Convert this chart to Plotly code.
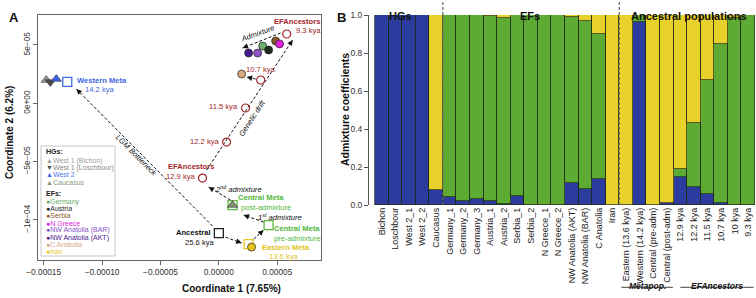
import math
import plotly.graph_objects as go

FONT = "Liberation Sans, Arial, sans-serif"
W, H = 756, 298

# ---------------- Panel A data (MDS coordinates) ----------------
hg_names = ["West 1 (Bichon)", "West 1 (Loschbour)", "West 2", "Caucasus"]
hg_x = [-1.478e-4, -1.443e-4, -1.392e-4, 1.17e-5]
hg_y = [2.00e-5, 1.83e-5, 2.08e-5, -8.72e-5]
hg_symbols = ["triangle-up", "triangle-down", "triangle-up", "triangle-up"]
hg_colors = ["#9b9b9b", "#4a4a4a", "#3f63e6", "#7d8f6e"]
hg_text_colors = ["#a0a0a0", "#8a8a8a", "#4f73f0", "#8a9a7c"]

meta_names = ["Western Meta", "Ancestral", "Eastern Meta", "Central Meta (pre)", "Central Meta (post)"]
meta_x = [-1.298e-4, 0.0, 2.55e-5, 4.26e-5, 1.17e-5]
meta_y = [1.83e-5, -1.112e-4, -1.207e-4, -1.044e-4, -8.72e-5]
meta_colors = ["#4169e1", "#222222", "#e6c619", "#5cb83f", "#5cb83f"]

ef_names = ["Germany", "Austria", "Serbia", "N Greece", "NW Anatolia (BAR)",
            "NW Anatolia (AKT)", "C Anatolia", "Iran"]
ef_x = [3.75e-5, 4.26e-5, 4.86e-5, 5.20e-5, 3.32e-5, 2.55e-5, 1.95e-5, 2.80e-5]
ef_y = [4.91e-5, 4.57e-5, 5.34e-5, 5.09e-5, 4.31e-5, 4.31e-5, 2.51e-5, -1.232e-4]
ef_colors = ["#6cae6c", "#1b2a1b", "#8b5a2b", "#e01ee0", "#8b52c9", "#4a1a8f", "#d6a97f", "#e8c51d"]

anc_ages = ["12.9 kya", "12.2 kya", "11.5 kya", "10.7 kya", "9.3 kya"]
anc_x = [-1.40e-5, 6.6e-6, 2.29e-5, 3.58e-5, 5.81e-5]
anc_y = [-6.41e-5, -3.32e-5, -4.0e-6, 2.00e-5, 5.94e-5]
ANC_RED = "#a3262a"

# arrows (from -> to), data coordinates
arrow_names = ["LGM Bottleneck", "to Eastern", "to Central pre", "1st admixture",
               "2nd admixture", "Genetic drift", "Admixture", "to C Anatolia"]
arrow_x0 = [-5.4e-6, 5.7e-6, 2.98e-5, 3.83e-5, 1.00e-5, -1.05e-5, 5.29e-5, 3.15e-5]
arrow_y0 = [-1.052e-4, -1.147e-4, -1.164e-4, -1.018e-4, -8.29e-5, -5.72e-5, 6.03e-5, 2.08e-5]
arrow_x1 = [-1.22e-4, 1.95e-5, 3.83e-5, 2.12e-5, -8.8e-6, 6.32e-5, 2.03e-5, 2.38e-5]
arrow_y1 = [1.23e-5, -1.198e-4, -1.087e-4, -9.58e-5, -7.18e-5, 5.43e-5, 4.74e-5, 2.26e-5]

# axis setup panel A
A_XRANGE = [-1.546e-4, 8.72e-5]
A_YRANGE = [-1.343e-4, 7.57e-5]
A_XDOM = [38.3 / W, 320.7 / W]
A_YDOM = [(H - 260) / H, (H - 15) / H]
a_xticks = [-1.5e-4, -1e-4, -5e-5, 0, 5e-5]
a_xticktext = ["\u22120.00015", "\u22120.00010", "\u22120.00005", "0.00000", "0.00005"]
a_yticks = [-1e-4, -5e-5, 0, 5e-5]
a_yticktext = ["\u22121e\u221204", "\u22125e\u221205", "0e+00", "5e\u221205"]

# ---------------- Panel B data (admixture) ----------------
labels = ["Bichon", "Loschbour", "West 2_1", "West 2_2", "Caucasus",
          "Germany_1", "Germany_2", "Germany_3", "Austria_1", "Austria_2",
          "Serbia_1", "Serbia_2", "N Greece_1", "N Greece_2",
          "NW Anatolia (AKT)", "NW Anatolia (BAR)", "C Anatolia", "Iran",
          "Eastern (13.6 kya)", "Western (14.2 kya)", "Central (pre-adm)", "Central (post-adm)",
          "12.9 kya", "12.2 kya", "11.5 kya", "10.7 kya", "10 kya", "9.3 kya"]
blue = [1, 1, 1, 1, 0.08, 0.04, 0.023, 0.03, 0.02, 0.005, 0.047, 0, 0, 0,
        0.114, 0.083, 0.135, 0, 0, 0.965, 0, 0.012, 0.146, 0.096, 0.056, 0.012, 0, 0]
green = [0, 0, 0, 0, 0, 0.96, 0.977, 0.97, 0.975, 0.98, 0.953, 1, 1, 1,
         0.876, 0.887, 0.765, 0, 0, 0.035, 0, 0, 0.044, 0.337, 0.604, 0.838, 0.983, 1]
yellow = [0, 0, 0, 0, 0.92, 0, 0, 0, 0.005, 0.015, 0, 0, 0, 0,
          0.01, 0.03, 0.10, 1, 1, 0, 1, 0.988, 0.81, 0.567, 0.34, 0.15, 0.017, 0]
B_BLUE, B_GREEN, B_YELLOW = "#2b3c9e", "#5eab33", "#e9d12c"

B_XDOM = [369 / W, 755 / W]
B_YDOM = [(H - 205) / H, (H - 15) / H]
B_XRANGE = [-0.94, 27.5]

fig = go.Figure()

# dashed arrow lines
lx, ly = [], []
for a, b, c, d in zip(arrow_x0, arrow_y0, arrow_x1, arrow_y1):
    lx += [a, c, None]
    ly += [b, d, None]
fig.add_trace(go.Scatter(x=lx, y=ly, mode="lines", xaxis="x", yaxis="y",
                         line=dict(color="#111111", width=1, dash="3px,2px"),
                         hoverinfo="skip", showlegend=False))

# metapopulation squares
fig.add_trace(go.Scatter(x=meta_x, y=meta_y, mode="markers", xaxis="x", yaxis="y",
                         marker=dict(symbol="square-open", size=9, color=meta_colors,
                                     line=dict(width=1.3, color=meta_colors)),
                         text=meta_names, showlegend=False))
# HG triangles
fig.add_trace(go.Scatter(x=hg_x, y=hg_y, mode="markers", xaxis="x", yaxis="y",
                         marker=dict(symbol=hg_symbols, size=9, color=hg_colors,
                                     line=dict(width=0.6, color="#333333")),
                         text=hg_names, showlegend=False))
# EF circles
fig.add_trace(go.Scatter(x=ef_x, y=ef_y, mode="markers", xaxis="x", yaxis="y",
                         marker=dict(symbol="circle", size=8, color=ef_colors,
                                     line=dict(width=0.7, color="#222222")),
                         text=ef_names, showlegend=False))
# EF ancestors
fig.add_trace(go.Scatter(x=anc_x, y=anc_y, mode="markers", xaxis="x", yaxis="y",
                         marker=dict(symbol="circle-open", size=8, color=ANC_RED,
                                     line=dict(width=1.2, color=ANC_RED)),
                         text=anc_ages, showlegend=False))

# admixture bars
for vals, col, nm in [(blue, B_BLUE, "blue"), (green, B_GREEN, "green"), (yellow, B_YELLOW, "yellow")]:
    fig.add_trace(go.Bar(x=labels, y=vals, xaxis="x2", yaxis="y2", name=nm,
                         marker=dict(color=col, line=dict(color="#1f2a14", width=0.7)),
                         width=1.0, showlegend=False))

ann = []
shapes = []

# arrowheads
px_per_x = (A_XDOM[1] - A_XDOM[0]) * W / (A_XRANGE[1] - A_XRANGE[0])
px_per_y = (A_YDOM[1] - A_YDOM[0]) * H / (A_YRANGE[1] - A_YRANGE[0])
for a, b, c, d in zip(arrow_x0, arrow_y0, arrow_x1, arrow_y1):
    dxp = (c - a) * px_per_x
    dyp = (d - b) * px_per_y
    L = math.hypot(dxp, dyp)
    ax = -dxp / L * 6
    ay = dyp / L * 6
    ann.append(dict(x=c, y=d, xref="x", yref="y", ax=ax, ay=ay, text="",
                    showarrow=True, arrowhead=2, arrowsize=1.1, arrowwidth=1,
                    arrowcolor="#111111", standoff=0))


def lab(x, y, text, color, size=7.6, xs=0, ys=0, anchor="center", angle=0, bold=False, italic=False):
    t = text
    if bold:
        t = "<b>" + t + "</b>"
    if italic:
        t = "<i>" + t + "</i>"
    ann.append(dict(x=x, y=y, xref="x", yref="y", text=t, showarrow=False,
                    xshift=xs, yshift=ys, xanchor=anchor, yanchor="middle", textangle=angle,
                    font=dict(family=FONT, size=size, color=color)))


BLUE_T, YEL_T, GRN_T = "#4169e1", "#e3c41c", "#4fb83a"
lab(meta_x[0], meta_y[0], "Western Meta", BLUE_T, xs=8, ys=1, anchor="left", bold=True)
lab(meta_x[0], meta_y[0], "14.2 kya", BLUE_T, xs=32, ys=-8)
lab(meta_x[1], meta_y[1], "Ancestral", "#111111", xs=-6, ys=1, anchor="right", bold=True)
lab(meta_x[1], meta_y[1], "25.6 kya", "#111111", xs=-19, ys=-9)
lab(meta_x[2], meta_y[2], "Eastern Meta", YEL_T, xs=11, ys=-3, anchor="left", bold=True)
lab(meta_x[2], meta_y[2], "13.6 kya", YEL_T, xs=35, ys=-12)
lab(meta_x[3], meta_y[3], "Central Meta", GRN_T, xs=28, ys=-3, bold=True)
lab(meta_x[3], meta_y[3], "pre-admixture", GRN_T, xs=29, ys=-13)
lab(meta_x[4], meta_y[4], "Central Meta", GRN_T, xs=28, ys=8, bold=True)
lab(meta_x[4], meta_y[4], "post-admixture", GRN_T, xs=33, ys=-2)

lab(anc_x[0], anc_y[0], "EFAncestors", ANC_RED, xs=-12, ys=12, bold=True)
lab(anc_x[0], anc_y[0], "12.9 kya", ANC_RED, xs=-6, ys=2, anchor="right")
lab(anc_x[1], anc_y[1], "12.2 kya", ANC_RED, xs=-6, ys=1, anchor="right")
lab(anc_x[2], anc_y[2], "11.5 kya", ANC_RED, xs=-6, ys=1, anchor="right")
lab(anc_x[3], anc_y[3], "10.7 kya", ANC_RED, xs=0, ys=10)
lab(anc_x[4], anc_y[4], "9.3 kya", ANC_RED, xs=7, ys=4, anchor="left")
lab(anc_x[4], anc_y[4], "EFAncestors", ANC_RED, xs=10, ys=13, bold=True)

# arrow labels (positioned at arrow midpoints)
def mid(i):
    return (arrow_x0[i] + arrow_x1[i]) / 2, (arrow_y0[i] + arrow_y1[i]) / 2

mx, my = mid(0)
lab(mx, my, "LGM Bottleneck", "#111111", xs=-8, ys=2, angle=45, italic=True)
mx, my = mid(5)
lab(mx, my, "Genetic drift", "#111111", xs=2, ys=-13, angle=-57, italic=True)
mx, my = mid(6)
lab(mx, my, "Admixture", "#111111", xs=-4, ys=7, angle=-20, italic=True)
mx, my = mid(3)
lab(mx, my, "1<sup>st</sup> admixture", "#111111", xs=26, ys=2, italic=True)
mx, my = mid(4)
lab(mx, my, "2<sup>nd</sup> admixture", "#111111", xs=19, ys=5, italic=True)

# legend box in panel A
shapes.append(dict(type="rect", xref="paper", yref="paper",
                   x0=41 / W, x1=115 / W, y0=(H - 256) / H, y1=(H - 146) / H,
                   line=dict(color="#c8c8c8", width=1), fillcolor="white", layer="above"))
leg_rows = [("<b>HGs:</b>", 152)]
hg_glyph = ["\u25B2", "\u25BC", "\u25B2", "\u25B2"]
for i, nm in enumerate(hg_names):
    leg_rows.append(("<span style='color:%s'>%s</span><span style='color:%s'>%s</span>"
                     % (hg_colors[i], hg_glyph[i], hg_text_colors[i], nm), 160.5 + 7.2 * i))
leg_rows.append(("<b>EFs:</b>", 193))
for i, nm in enumerate(ef_names):
    leg_rows.append(("<span style='color:%s'>\u25CF</span><span style='color:%s'>%s</span>"
                     % (ef_colors[i], ef_colors[i], nm), 201.5 + 7.2 * i))
for t, py in leg_rows:
    ann.append(dict(x=44 / W, y=(H - py) / H, xref="paper", yref="paper", text=t,
                    showarrow=False, xanchor="left", yanchor="middle",
                    font=dict(family=FONT, size=7.0, color="#222222")))

# axis titles and panel letters
ann.append(dict(x=180 / W, y=(H - 288) / H, xref="paper", yref="paper",
                text="<b>Coordinate 1 (7.65%)</b>", showarrow=False, yanchor="middle",
                font=dict(family=FONT, size=10, color="#111111")))
ann.append(dict(x=9 / W, y=(H - 133) / H, xref="paper", yref="paper",
                text="<b>Coordinate 2 (6.2%)</b>", showarrow=False, textangle=-90,
                xanchor="center", yanchor="middle",
                font=dict(family=FONT, size=10, color="#111111")))
ann.append(dict(x=345 / W, y=(H - 110) / H, xref="paper", yref="paper",
                text="<b>Admixture coefficients</b>", showarrow=False, textangle=-90,
                xanchor="center", yanchor="middle",
                font=dict(family=FONT, size=10.5, color="#111111")))
ann.append(dict(x=7 / W, y=(H - 8) / H, xref="paper", yref="paper", text="<b>A</b>",
                showarrow=False, font=dict(family=FONT, size=13, color="#111111")))
ann.append(dict(x=341 / W, y=(H - 8) / H, xref="paper", yref="paper", text="<b>B</b>",
                showarrow=False, font=dict(family=FONT, size=13, color="#111111")))

# panel B group labels & separators
group_labels = ["HGs", "EFs", "Ancestral populations"]
group_pos = [1.35, 10.9, 22.6]
for g, p in zip(group_labels, group_pos):
    ann.append(dict(x=p, y=(H - 8) / H, xref="x2", yref="paper", text="<b>%s</b>" % g,
                    showarrow=False, font=dict(family=FONT, size=11, color="#111111")))
for sep in [4.5, 17.5]:
    shapes.append(dict(type="line", xref="x2", yref="paper", x0=sep, x1=sep,
                       y0=(H - 205) / H, y1=(H - 1) / H,
                       line=dict(color="#666666", width=1.2, dash="3px,2px")))
sub_labels = ["Metapop.", "EFAncestors"]
sub_span = [(17.65, 21.45), (22.0, 27.4)]
for s, (a, b) in zip(sub_labels, sub_span):
    shapes.append(dict(type="line", xref="x2", yref="paper", x0=a, x1=b,
                       y0=(H - 287.3) / H, y1=(H - 287.3) / H,
                       line=dict(color="#444444", width=1)))
    ann.append(dict(x=(a + b) / 2, y=(H - 293) / H, xref="x2", yref="paper",
                    text="<b><i>%s</i></b>" % s, showarrow=False,
                    font=dict(family=FONT, size=8.5, color="#111111")))

fig.update_layout(
    width=W, height=H, margin=dict(l=0, r=0, t=0, b=0, autoexpand=False),
    paper_bgcolor="white", plot_bgcolor="white",
    barmode="stack", bargap=0, showlegend=False,
    font=dict(family=FONT, size=8.5, color="#333333"),
    xaxis=dict(domain=A_XDOM, range=A_XRANGE, anchor="y", showgrid=False, zeroline=False,
               automargin=False,
               showline=True, mirror=True, linecolor="#666666", linewidth=1,
               ticks="outside", ticklen=4, tickcolor="#666666",
               tickvals=a_xticks, ticktext=a_xticktext,
               tickfont=dict(family=FONT, size=8.3, color="#333333")),
    yaxis=dict(domain=A_YDOM, range=A_YRANGE, anchor="x", showgrid=False, zeroline=False,
               automargin=False,
               showline=True, mirror=True, linecolor="#666666", linewidth=1,
               ticks="outside", ticklen=4, tickcolor="#666666",
               tickvals=a_yticks, ticktext=a_yticktext, tickangle=-90,
               tickfont=dict(family=FONT, size=8.3, color="#333333")),
    xaxis2=dict(domain=B_XDOM, range=B_XRANGE, anchor="y2", type="category",
                automargin=False,
                showgrid=False, zeroline=False, showline=False, ticks="",
                tickangle=-90, tickfont=dict(family=FONT, size=9, color="#222222")),
    yaxis2=dict(domain=B_YDOM, range=[0, 1], anchor="x2", showgrid=False, zeroline=False,
                automargin=False,
                showline=True, linecolor="#555555", linewidth=1,
                ticks="outside", ticklen=4, tickcolor="#555555",
                tickvals=[0, 0.2, 0.4, 0.6, 0.8, 1.0],
                ticktext=["0.0", "0.2", "0.4", "0.6", "0.8", "1.0"],
                tickfont=dict(family=FONT, size=8.5, color="#333333")),
    annotations=ann, shapes=shapes,
)

fig.write_html("out.html", config={"displayModeBar": False},
               post_script="document.body.style.margin='0';document.body.style.padding='0';"
                           "document.documentElement.style.overflow='hidden';")
